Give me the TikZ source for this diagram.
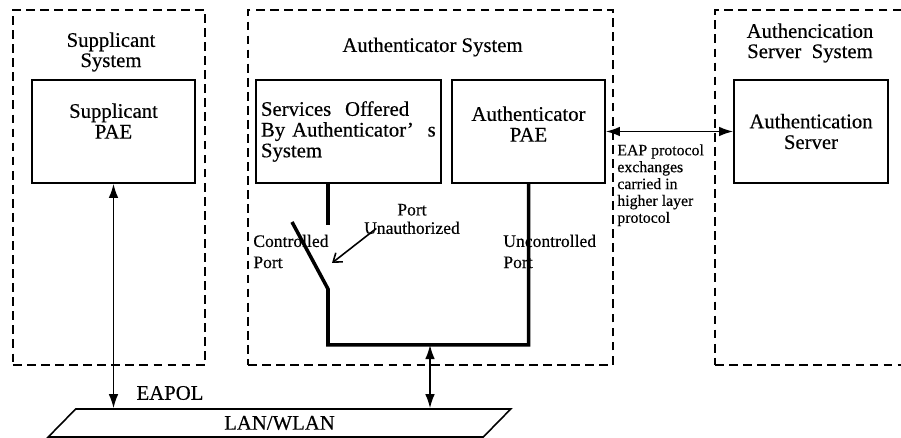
\documentclass[tikz,border=0pt]{standalone}
\usepackage{fontspec}
\setmainfont{Liberation Serif}[FakeBold=0.4]
\usetikzlibrary{arrows.meta,positioning,shapes.geometric,calc}

\begin{document}
\begin{tikzpicture}[
    system/.style={draw=black, dash pattern=on 5pt off 3pt, line width=1.1pt, minimum height=7.1cm, anchor=south west, inner sep=0pt},
    entity/.style={draw=black, line width=1pt, minimum height=2.06cm, align=center, inner sep=2pt, font=\fontsize{11.8}{11.8}\selectfont},
    raised/.style={text depth=#1},
    title/.style={align=center, inner sep=0pt, font=\fontsize{11.8}{11.5}\selectfont},
    note/.style={align=left, inner sep=0pt, font=\fontsize{10}{12}\selectfont},
    wire/.style={line width=2pt},
    link/.style={{Latex[length=8pt,width=5.5pt]}-{Latex[length=8pt,width=5.5pt]}, line width=0.9pt}
  ]
    \useasboundingbox (0,0) rectangle (18.02,8.76);

    % Systems
    \node[system, minimum width=3.84cm] (suppSys) at (0.24,1.44) {};
    \node[system, minimum width=7.30cm] (authSys) at (4.94,1.44) {};
    \node[system, minimum width=4.5cm] (serverSys) at (14.28,1.44) {};

    \node[title] (suppTitle) at (2.22,7.72) {Supplicant\\System};
    \node[title] (authTitle) at (8.65,7.82) {Authenticator System};
    \node[title] (serverTitle) at (16.2,7.9) {Authencication\\Server\ \ System};

    % Entities
    \node[entity, raised=0.42cm, minimum width=3.26cm] (suppPAE) at (2.27,6.13) {Supplicant\\PAE};
    \node[entity, minimum width=3.70cm, align=left, text width=3.5cm] (services) at (6.97,6.13) {Services\ \ Offered\\By Authenticator’\ \ s\\System};
    \node[entity, raised=0.3cm, minimum width=3.06cm] (authPAE) at (10.57,6.13) {Authenticator\\PAE};
    \node[entity, minimum width=3.08cm] (server) at (16.22,6.13) {Authentication\\Server};

    % LAN
    \node[trapezium, draw, line width=0.9pt, trapezium left angle=62, trapezium right angle=118, trapezium stretches=true,
      minimum width=9.26cm, minimum height=0.56cm, inner sep=0pt, font=\fontsize{11.8}{11.8}\selectfont] (lan) at (5.59,0.30) {LAN/WLAN};

    % Port labels
    \node[note, anchor=west] (ctrlPort) at (5.06,3.73) {Controlled\\Port};
    \node[note, anchor=west] (unctrlPort) at (10.06,3.73) {Uncontrolled\\Port};
    \node[note, align=center, font=\fontsize{10}{10.5}\selectfont] (unauth) at (8.24,4.38) {Port\\Unauthorized};
    \node[note, anchor=north west, font=\fontsize{9}{9.6}\selectfont] (eapNote) at (12.34,5.88) {EAP protocol\\exchanges\\carried in\\higher layer\\protocol};
    \node[title] (eapol) at (3.40,0.90) {EAPOL};

    % Switch
    \coordinate (ctrlTop) at (6.56,4.26);
    \coordinate (blade) at (5.84,4.32);
    \coordinate (pivot) at (6.56,2.98);
    \coordinate (busLeft) at (6.56,1.86);
    \coordinate (busMid) at (8.60,1.86);
    \coordinate (unauthTip) at (6.64,3.50);
    \draw[wire] (services.south -| ctrlTop) -- (ctrlTop);
    \draw[wire] (blade) -- (pivot) -- (busLeft) -| (authPAE.south);
    \draw[-{Straight Barb[length=4.5pt,width=6.5pt]}, line width=0.9pt] ($(unauth.south west)+(0.25,0.12)$) -- (unauthTip);

    % Connectors
    \draw[link] (suppPAE.south) -- (suppPAE.south |- lan.north);
    \draw[link] (busMid) -- (busMid |- lan.north);
    \draw[link] (authPAE.east) -- (server.west);
\end{tikzpicture}
\end{document}
